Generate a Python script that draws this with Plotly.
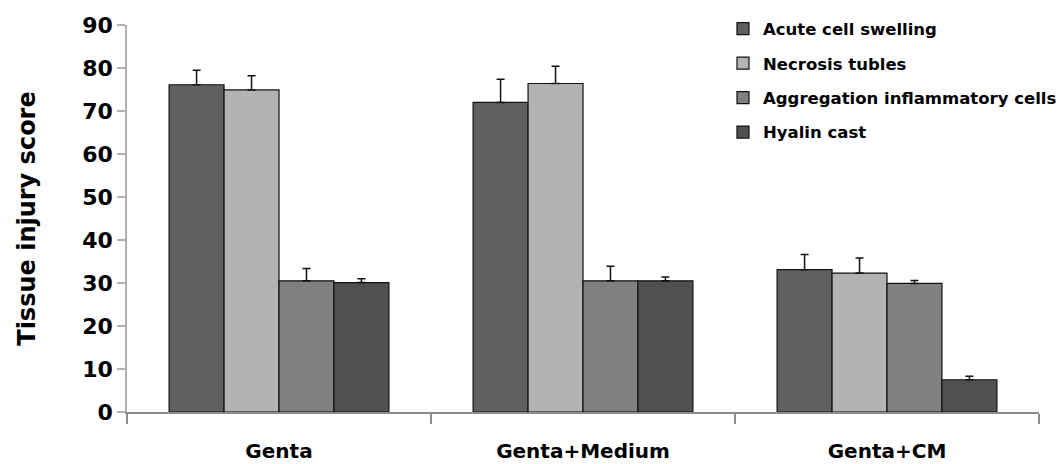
import plotly.graph_objects as go

# Groups and injury categories
groups = ["Genta", "Genta+Medium", "Genta+CM"]
series_names = [
    "Acute cell swelling",
    "Necrosis tubles",
    "Aggregation inflammatory cells",
    "Hyalin cast",
]

# Mean scores per injury category, one entry per group
acute_cell_swelling = [76.1, 72.0, 33.1]
necrosis_tubles = [74.9, 76.4, 32.3]
aggregation_inflammatory = [30.5, 30.5, 29.9]
hyalin_cast = [30.1, 30.5, 7.5]

# Upper error (SD/SEM) per injury category
acute_cell_swelling_err = [3.4, 5.4, 3.5]
necrosis_tubles_err = [3.3, 4.0, 3.5]
aggregation_inflammatory_err = [2.9, 3.4, 0.7]
hyalin_cast_err = [0.9, 0.9, 0.8]

y_ticks = [0, 10, 20, 30, 40, 50, 60, 70, 80, 90]

values = [acute_cell_swelling, necrosis_tubles, aggregation_inflammatory, hyalin_cast]
errors = [acute_cell_swelling_err, necrosis_tubles_err,
          aggregation_inflammatory_err, hyalin_cast_err]
colors = ["#606060", "#b3b3b3", "#808080", "#505050"]

FONT = "DejaVu Sans"

fig = go.Figure()
for name, vals, errs, col in zip(series_names, values, errors, colors):
    fig.add_trace(go.Bar(
        name=name,
        x=groups,
        y=vals,
        legendgroup=name,
        marker=dict(color=col, line=dict(color="#111111", width=1.2)),
        error_y=dict(type="data", array=errs, arrayminus=[0] * len(errs),
                     symmetric=False, color="#111111", thickness=1.5, width=4),
    ))

fig.update_layout(
    width=1062,
    height=464,
    barmode="group",
    bargap=0.277,
    bargroupgap=0,
    plot_bgcolor="white",
    paper_bgcolor="white",
    margin=dict(l=127, r=23, t=25, b=52, autoexpand=False),
    font=dict(family=FONT, color="#000000"),
    showlegend=True,
    legend=dict(
        x=0.6535, y=1.035, xanchor="left", yanchor="top",
        font=dict(family=FONT, size=16.5, color="#000000", weight="bold"),
        tracegroupgap=10,
        bgcolor="rgba(0,0,0,0)",
        itemwidth=30,
    ),
    xaxis=dict(
        showline=True, linecolor="#8c8c8c", linewidth=1.5,
        ticks="outside", tickson="boundaries", ticklen=10,
        tickcolor="#8c8c8c", tickwidth=1.5,
        ticklabelstandoff=20,
        tickfont=dict(family=FONT, size=20, color="#000000", weight="bold"),
        showgrid=False, zeroline=False,
    ),
    yaxis=dict(
        range=[0, 90], tickvals=y_ticks,
        showline=True, linecolor="#b0b0b0", linewidth=1.5,
        ticks="outside", ticklen=8, tickcolor="#b0b0b0", tickwidth=1.5,
        tickfont=dict(family=FONT, size=22, color="#000000", weight="bold"),
        showgrid=False, zeroline=False,
        title=dict(text="Tissue injury score", standoff=40,
                   font=dict(family=FONT, size=24, color="#000000", weight="bold")),
    ),
)

fig.write_html("out.html")
